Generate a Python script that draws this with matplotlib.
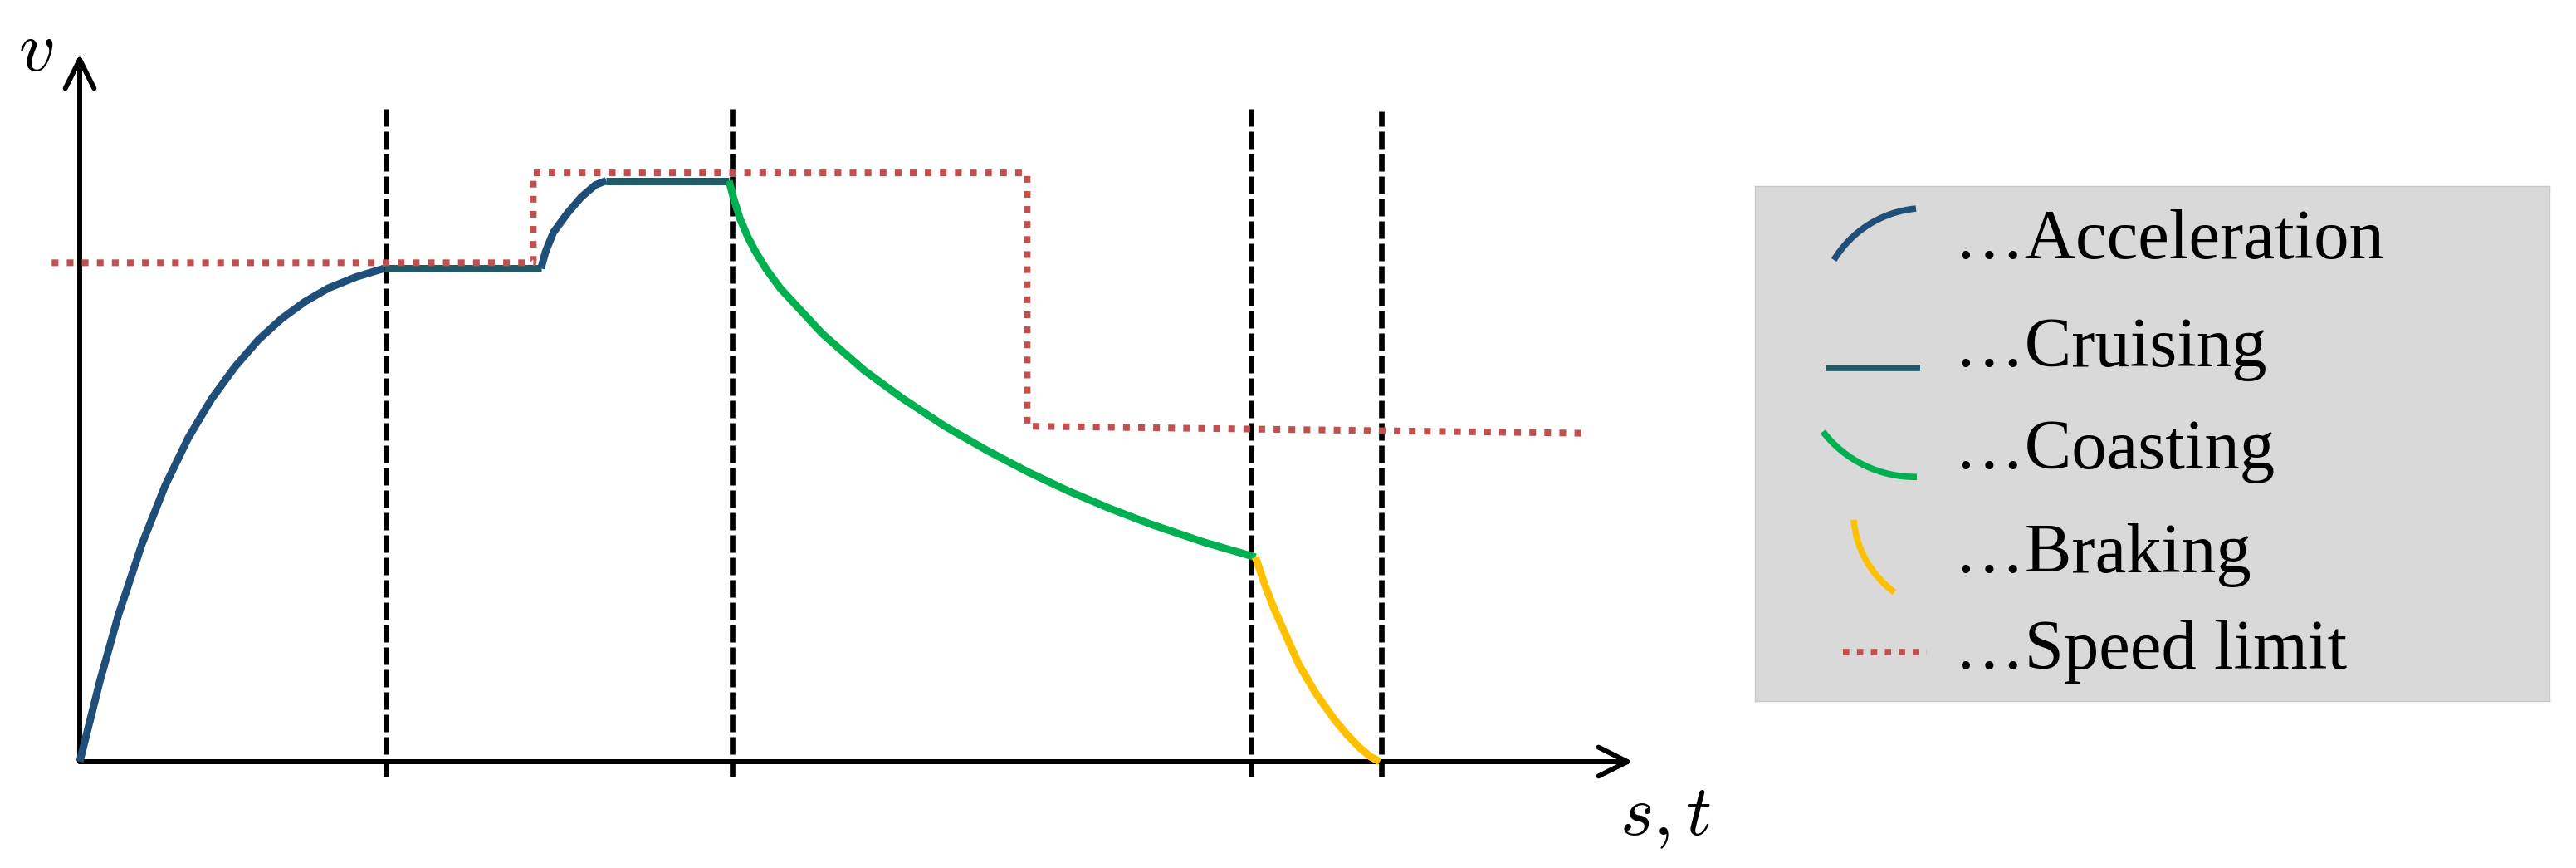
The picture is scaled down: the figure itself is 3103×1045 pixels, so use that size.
import matplotlib
matplotlib.use('agg')
import matplotlib.pyplot as plt
from matplotlib.patches import Arc

plt.rcParams['mathtext.fontset'] = 'cm'

# s in % of the s-axis length, v in % of the v-axis height
accel1_s = [0.0, 1.3, 2.5, 4.0, 5.5, 7.0, 8.5, 10.0, 11.5, 13.0, 14.5, 16.0, 17.8, 19.6]
accel1_v = [0.0, 11.4, 20.8, 30.7, 39.0, 45.8, 51.3, 55.8, 59.6, 62.6, 65.0, 66.9, 68.5, 69.7]

cruise1_s = [19.6, 29.7]
cruise1_v = [69.7, 69.7]

accel2_s = [29.7, 30.0, 30.5, 31.4, 32.3, 33.2, 33.9]
accel2_v = [69.7, 72.1, 74.8, 77.5, 79.8, 81.5, 82.1]

cruise2_s = [33.9, 41.8]
cruise2_v = [82.1, 82.1]

coast_s = [41.8, 42.1, 42.5, 43.0, 43.5, 44.2, 45.1, 47.8, 50.5, 53.0, 55.7,
           58.4, 61.0, 63.6, 66.3, 68.9, 72.4, 75.7]
coast_v = [82.1, 79.6, 76.8, 74.2, 72.1, 69.6, 66.9, 60.5, 55.3, 51.3, 47.4,
           44.0, 41.0, 38.3, 35.8, 33.6, 31.0, 28.9]

brake_s = [75.7, 76.3, 76.9, 78.5, 79.6, 80.8, 81.6, 82.4, 83.1, 83.7]
brake_v = [28.9, 25.0, 21.6, 13.7, 9.6, 5.9, 3.8, 2.0, 0.7, 0.0]

limit_s = [-1.8, 29.2, 29.2, 61.0, 61.0, 97.2]
limit_v = [70.5, 70.5, 83.2, 83.2, 47.4, 46.4]

phase_s = [19.7, 42.0, 75.4, 83.8]
phase_top = [92.8, 92.8, 92.8, 91.9]
phase_bottom = -2.1

labels = ['\u2026Acceleration', '\u2026Cruising', '\u2026Coasting',
          '\u2026Braking', '\u2026Speed limit']

C_ACC = '#1F4E79'
C_CRU = '#215967'
C_COA = '#00B050'
C_BRA = '#FFC000'
C_LIM = '#C0504D'

W, H = 3103, 1045
X0, Y0 = 96, 917          # origin in pixels
SX, SY = 1871 / 100, 852 / 100


def main():
    fig = plt.figure(figsize=(W / 100, H / 100), dpi=100)
    ax = fig.add_axes([0, 0, 1, 1])
    ax.set_xlim(-X0 / SX, (W - X0) / SX)
    ax.set_ylim(-(H - Y0) / SY, Y0 / SY)
    ax.axis('off')

    for s, top in zip(phase_s, phase_top):
        ax.plot([s, s], [phase_bottom, top], color='black', lw=4.8,
                linestyle=(0, (3.15, 0.9)), zorder=1)

    lw = 6.5
    for xs, ys, c in [(accel1_s, accel1_v, C_ACC), (cruise1_s, cruise1_v, C_CRU),
                      (accel2_s, accel2_v, C_ACC), (cruise2_s, cruise2_v, C_CRU),
                      (coast_s, coast_v, C_COA), (brake_s, brake_v, C_BRA)]:
        ax.plot(xs, ys, color=c, lw=lw, zorder=3, solid_capstyle='butt',
                solid_joinstyle='round')
    ax.plot(limit_s, limit_v, color=C_LIM, lw=5.8,
            linestyle=(0, (1.0, 1.25)), zorder=4)

    arrow = dict(arrowstyle='->,head_length=2.5,head_width=1.25', lw=4.3,
                 color='black', mutation_scale=10, shrinkA=0, shrinkB=0)
    ax.annotate('', xy=(100, 0), xytext=(0, 0), arrowprops=arrow, zorder=2)
    ax.annotate('', xy=(0, 100), xytext=(0, 0), arrowprops=arrow, zorder=2)

    fig.text(43 / W, 1 - 62 / H, '$v$', fontsize=62, ha='center', va='center')
    fig.text(2006 / W, 1 - 983 / H, '$s,t$', fontsize=62, ha='center', va='center')

    # legend box
    bl, bt, bw, bh = 2114, 224, 957, 620
    leg = fig.add_axes([bl / W, 1 - (bt + bh) / H, bw / W, bh / H])
    leg.set_xlim(0, bw)
    leg.set_ylim(0, bh)
    leg.set_facecolor('#D9D9D9')
    leg.set_xticks([])
    leg.set_yticks([])
    for sp in leg.spines.values():
        sp.set_color('#C8C8C8')
        sp.set_linewidth(1)

    hl = 5.5
    leg.add_patch(Arc((206.2, 463.5), 260, 260, theta1=95.4, theta2=148.7,
                      color=C_ACC, lw=hl))
    leg.plot([85, 199], [401, 401], color=C_CRU, lw=hl, solid_capstyle='butt')
    leg.add_patch(Arc((192.8, 409.8), 280, 280, theta1=217.6, theta2=270.9,
                      color=C_COA, lw=hl))
    leg.add_patch(Arc((238.5, 228.1), 240, 240, theta1=184.8, theta2=234,
                      color=C_BRA, lw=hl))
    leg.plot([106, 207], [59, 59], color=C_LIM, lw=5.5, linestyle=(0, (1.0, 1.2)))

    baselines = [533, 403, 280, 155, 39]
    for lab, yb in zip(labels, baselines):
        leg.text(240, yb, lab, fontsize=61, family='Liberation Serif',
                 ha='left', va='baseline')

    fig.savefig('out.png', dpi=100)
    plt.close('all')


if __name__ == '__main__':
    main()
